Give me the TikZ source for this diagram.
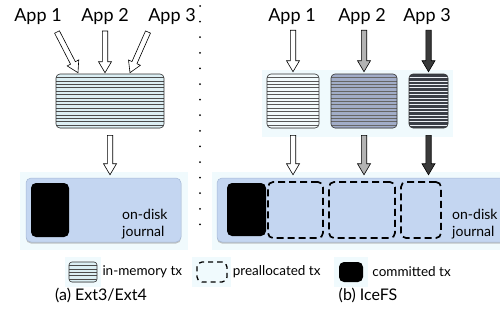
\documentclass[tikz,border=0pt]{standalone}
\usepackage{fontspec}
\setmainfont{Lato}
\usetikzlibrary{calc,positioning,shadows}

\definecolor{glow}{HTML}{F0FAFD}
\definecolor{jrnfill}{HTML}{C4D6F1}
\definecolor{jrnline}{HTML}{A6B8D6}
\definecolor{memlt}{HTML}{DCEFF4}
\definecolor{memwh}{HTML}{F2FAFC}
\definecolor{memmd}{HTML}{A2ADC8}
\definecolor{memdk}{HTML}{3A3E46}
\definecolor{arrmd}{HTML}{B3B3B3}
\definecolor{arrdk}{HTML}{3A3A3A}

\tikzset{
  apptext/.style={font=\fontsize{18}{21}\selectfont, inner sep=0pt},
  memtx/.style 2 args={fill=#1, draw=black!80, rounded corners=4pt, line width=0.6pt,
    path picture={\foreach \k in {1,...,16}
      \draw[#2, line width=0.5pt] ([yshift=-\k*3.4pt]path picture bounding box.north west)
        -- ([yshift=-\k*3.4pt]path picture bounding box.north east);}},
  journal/.style={fill=jrnfill, draw=jrnline, rounded corners=5pt, line width=0.5pt,
    drop shadow={shadow xshift=0pt, shadow yshift=-1.5pt, fill=black!45, opacity=0.5}},
  pretx/.style={draw=black, dash pattern=on 7pt off 4pt, line width=1.7pt, rounded corners=5pt},
  donetx/.style={fill=black, rounded corners=5pt},
  jtext/.style={font=\fontsize{14}{17}\selectfont, align=left, inner sep=0pt},
  legtext/.style={font=\fontsize{13.5}{16}\selectfont, inner sep=0pt},
  captext/.style={font=\fontsize{16}{19}\selectfont, inner sep=0pt},
}

% hollow block arrow between two points
\newcommand{\blockarrow}[3][white]{%
  \coordinate (bh) at ($(#3)!11pt!(#2)$);
  \draw[fill=#1, line width=0.6pt]
    ($(#2)!2.7pt!90:(#3)$) -- ($(bh)!2.7pt!90:(#3)$) -- ($(bh)!6.5pt!90:(#3)$)
    -- (#3) -- ($(bh)!6.5pt!-90:(#3)$) -- ($(bh)!2.7pt!-90:(#3)$)
    -- ($(#2)!2.7pt!-90:(#3)$) -- cycle;
}

\begin{document}
\begin{tikzpicture}[x=1pt, y=-1pt]
\useasboundingbox (0,0) rectangle (500,327);
\clip (0,0) rectangle (500,327);

% soft backgrounds
\fill[glow] (20,172) rectangle (188,250);
\fill[glow] (262,70) rectangle (453,137);
\fill[glow] (212,172) rectangle (500,250);
\fill[glow] (65,257) rectangle (101,287);
\fill[glow] (192,257) rectangle (231,287);
\fill[glow] (334,257) rectangle (368,287);

% divider
\draw[black, line width=2pt, line cap=round, dash pattern=on 0pt off 15.6pt] (200,6) -- (200,230);

% (a) Ext3/Ext4
\node[apptext] (appA1) at (38,17) {App 1};
\node[apptext] (appA2) at (105,17) {App 2};
\node[apptext] (appA3) at (172,17) {App 3};
\node[memtx={memlt}{black!70}, minimum width=108pt, minimum height=54pt] (memA) at (110,101) {};
\node[journal, minimum width=155pt, minimum height=64pt] (jrnA) at (103.5,210) {};
\node[donetx, minimum width=38pt, minimum height=54pt] (doneA) at (50,210) {};
\node[jtext, anchor=west] (jtxtA) at (122,224) {on-disk\\journal};

\coordinate (tA1) at (57,32);
\coordinate (hA1) at ($(memA.north)+(-32,-1)$);
\coordinate (tA2) at (105,31);
\coordinate (hA2) at ($(memA.north)+(-5,-1)$);
\coordinate (tA3) at (148,32);
\coordinate (hA3) at ($(memA.north)+(20,-1)$);
\blockarrow{tA1}{hA1}
\blockarrow{tA2}{hA2}
\blockarrow{tA3}{hA3}
\coordinate (tA4) at ($(memA.south)+(0,7)$);
\coordinate (hA4) at ($(memA.south |- jrnA.north)+(0,-3)$);
\blockarrow{tA4}{hA4}

% (b) IceFS
\node[apptext] (appB1) at (292,17) {App 1};
\node[apptext] (appB2) at (362,17) {App 2};
\node[apptext] (appB3) at (427,17) {App 3};
\node[memtx={memwh}{black!65}, minimum width=52pt, minimum height=54pt] (memB1) at (293,101) {};
\node[memtx={memmd}{black!60}, minimum width=66pt, minimum height=54pt] (memB2) at (364,101) {};
\node[memtx={memdk}{white!80!memmd}, minimum width=39pt, minimum height=54pt] (memB3) at (428.5,101) {};
\node[journal, minimum width=290pt, minimum height=64pt] (jrnB) at (362,210) {};
\node[donetx, minimum width=39pt, minimum height=53pt] (doneB) at (246.5,209.5) {};
\node[pretx, minimum width=55pt, minimum height=56pt] (preB1) at (295.5,210) {};
\node[pretx, minimum width=66pt, minimum height=56pt] (preB2) at (362,210) {};
\node[pretx, minimum width=40pt, minimum height=56pt] (preB3) at (421,210) {};
\node[jtext, anchor=west] (jtxtB) at (452,224) {on-disk\\journal};

\foreach \i/\c in {1/white, 2/arrmd, 3/arrdk} {
  \coordinate (tB\i) at ($(memB\i.north |- appB\i.south)+(0,5)$);
  \coordinate (hB\i) at ($(memB\i.north)+(0,-2)$);
  \blockarrow[\c]{tB\i}{hB\i}
  \coordinate (sB\i) at ($(memB\i.south)+(0,7)$);
  \coordinate (eB\i) at ($(memB\i.south |- jrnB.north)+(0,-3)$);
  \blockarrow[\c]{sB\i}{eB\i}
}

% legend
\node[memtx={memlt}{black!70}, rounded corners=3pt, minimum width=28pt, minimum height=20pt] (legMem) at (83,272) {};
\node[legtext, right=5pt of legMem] (legMemTxt) {in-memory tx};
\node[pretx, line width=1.3pt, dash pattern=on 5pt off 4pt, minimum width=30pt, minimum height=20pt] (legPre) at (212,272) {};
\node[legtext, right=5pt of legPre] (legPreTxt) {preallocated tx};
\node[donetx, minimum width=24pt, minimum height=20pt] (legDone) at (351,272) {};
\node[legtext, right=9pt of legDone] (legDoneTxt) {committed tx};

% captions
\node[captext] (capA) at (101,295) {(a) Ext3/Ext4};
\node[captext] (capB) at (368,295) {(b) IceFS};
\end{tikzpicture}
\end{document}
